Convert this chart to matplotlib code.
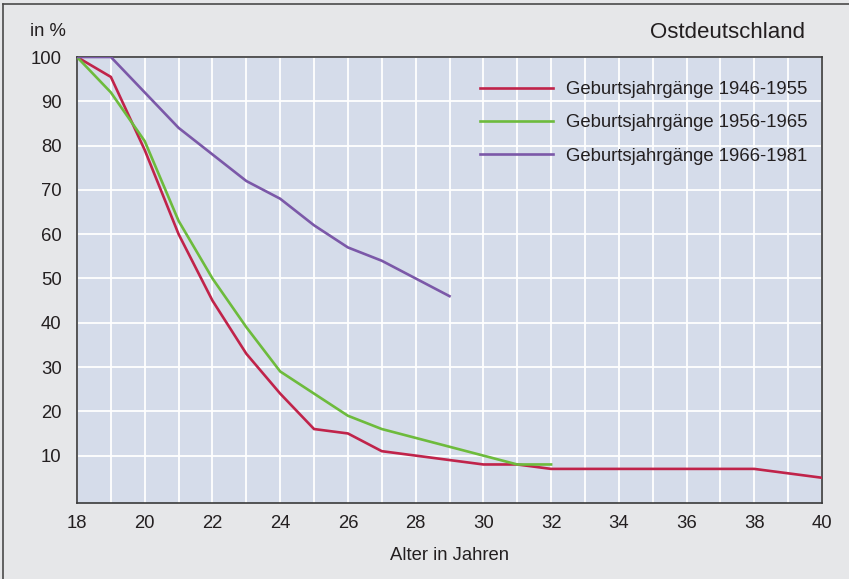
import matplotlib
matplotlib.use("Agg")
import matplotlib.pyplot as plt
from matplotlib.lines import Line2D

plt.rcParams['font.family'] = ['Liberation Sans', 'DejaVu Sans']

ages_1946 = list(range(18, 41))
vals_1946 = [100, 95.5, 79, 60, 45, 33, 24, 16, 15, 11, 10, 9, 8, 8, 7, 7, 7, 7, 7, 7, 7, 6, 5]
ages_1956 = list(range(18, 33))
vals_1956 = [100, 92, 81, 63, 50, 39, 29, 24, 19, 16, 14, 12, 10, 8, 8]
ages_1966 = list(range(18, 30))
vals_1966 = [100, 100, 92, 84, 78, 72, 68, 62, 57, 54, 50, 46]

labels = ["Geburtsjahrgänge 1946-1955", "Geburtsjahrgänge 1956-1965", "Geburtsjahrgänge 1966-1981"]
colors = ["#c0234a", "#6dbb3c", "#7b58a8"]
xticks = list(range(18, 41, 2))
yticks = list(range(10, 101, 10))

W, H = 849, 579
fig = plt.figure(figsize=(W / 100, H / 100), dpi=100)
fig.patch.set_facecolor("#e6e7e9")
ax = fig.add_axes([77 / W, 1 - 503 / H, (822 - 77) / W, (503 - 57) / H])
ax.set_facecolor("#d5dcea")

for xs, ys, c, lab in zip([ages_1946, ages_1956, ages_1966], [vals_1946, vals_1956, vals_1966], colors, labels):
    ax.plot(xs, ys, color=c, lw=1.9, label=lab, solid_joinstyle="miter", zorder=3)

ax.set_xlim(18, 40)
ax.set_ylim(-0.7, 100)
ax.set_xticks(xticks)
ax.set_xticks(range(18, 41), minor=True)
ax.set_yticks(yticks)
ax.grid(True, which="both", color="white", lw=1.3, zorder=1)
ax.set_axisbelow(True)
ax.tick_params(which="both", length=0, labelsize=13.3, colors="#231f20")
ax.tick_params(axis="y", pad=11)
ax.tick_params(axis="x", pad=9)
for s in ax.spines.values():
    s.set_color("#3a3a3a")
    s.set_linewidth(1.2)

ax.set_xlabel("Alter in Jahren", fontsize=13.3, color="#231f20", labelpad=10.5)

fig.text(30 / W, 1 - 31 / H, "in %", fontsize=13.3, color="#231f20", ha="left", va="center")
fig.text(805 / W, 1 - 32 / H, "Ostdeutschland", fontsize=16, color="#231f20", ha="right", va="center")

leg = ax.legend(loc="upper left", bbox_to_anchor=(480 / W, 1 - 81 / H), bbox_transform=fig.transFigure,
                frameon=False, fontsize=13.3, handlelength=3.95, handletextpad=0.7,
                labelspacing=0.88, borderpad=0, borderaxespad=0)
for t in leg.get_texts():
    t.set_color("#231f20")

fig.add_artist(Line2D([3 / W, 3 / W], [0, 1 - 4 / H], transform=fig.transFigure, color="#4a4a4a", lw=1.2))
fig.add_artist(Line2D([3 / W, 1], [1 - 4 / H, 1 - 4 / H], transform=fig.transFigure, color="#4a4a4a", lw=1.2))

fig.savefig("out.png", dpi=100, facecolor=fig.get_facecolor())
